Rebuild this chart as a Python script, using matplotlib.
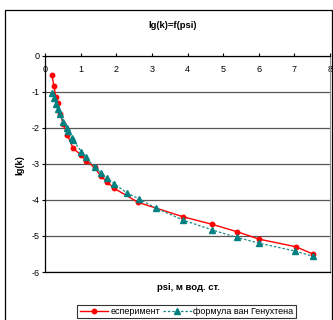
import matplotlib
matplotlib.use("Agg")
import matplotlib.pyplot as plt
from matplotlib.patches import Rectangle

plt.rcParams['font.family'] = ['Liberation Sans', 'DejaVu Sans']

exp_x = [0.19, 0.25, 0.30, 0.36, 0.43, 0.51, 0.63, 0.79, 1.02, 1.15, 1.39, 1.56, 1.73, 1.94, 2.62, 3.88, 4.70, 5.38, 6.02, 7.04, 7.52]
exp_y = [-0.53, -0.83, -1.14, -1.32, -1.62, -1.89, -2.20, -2.57, -2.76, -2.91, -3.10, -3.33, -3.49, -3.68, -4.07, -4.47, -4.68, -4.88, -5.09, -5.30, -5.50]

vg_x = [0.21, 0.26, 0.31, 0.36, 0.42, 0.51, 0.61, 0.65, 0.75, 0.79, 1.02, 1.15, 1.39, 1.56, 1.73, 1.95, 2.29, 2.65, 3.12, 3.88, 4.68, 5.38, 6.01, 7.02, 7.51]
vg_y = [-1.04, -1.18, -1.34, -1.48, -1.62, -1.83, -2.01, -2.10, -2.29, -2.34, -2.66, -2.82, -3.08, -3.24, -3.38, -3.56, -3.80, -3.98, -4.23, -4.56, -4.83, -5.04, -5.20, -5.42, -5.56]

x_ticks = [0, 1, 2, 3, 4, 5, 6, 7, 8]
y_ticks = [0, -1, -2, -3, -4, -5, -6]

title = "lg(k)=f(psi)"
xlabel = "psi, м вод. ст."
ylabel = "lg(k)"
label_exp = "есперимент"
label_vg = "формула ван Генухтена"

W, H = 333, 320
fig = plt.figure(figsize=(W / 100, H / 100), dpi=100)
fig.patch.set_facecolor('white')

# outer chart border
fig.patches.append(Rectangle((5 / W, -10 / H), 327 / W, H / H,
                             transform=fig.transFigure, fill=False,
                             edgecolor='black', linewidth=0.9))

ax = fig.add_axes([45 / W, 1 - 272 / H, (330 - 45) / W, (272 - 55.7) / H])
ax.set_xlim(0, 8)
ax.set_ylim(-6, 0)

ax.plot(exp_x, exp_y, color='#ff0000', marker='o', markersize=3.2, linewidth=1.0,
        label=label_exp, zorder=3)
ax.plot(vg_x, vg_y, color='#1a8c8c', linestyle=(0, (2, 1.5)), linewidth=0.9,
        marker='^', markersize=4, markerfacecolor='#008080', markeredgecolor='#008080',
        label=label_vg, zorder=4)

ax.set_xticks(x_ticks)
ax.set_yticks(y_ticks)
ax.set_xticklabels([str(t) for t in x_ticks])
ax.set_yticklabels([str(t) for t in y_ticks])
ax.tick_params(axis='x', bottom=False, labelbottom=False, top=True, labeltop=True,
               direction='out', length=2, width=0.8, pad=-15, labelsize=6.5, colors='black')
ax.tick_params(axis='y', direction='out', length=2, width=0.8, pad=2, labelsize=6.5)

ax.yaxis.grid(True, color='#555555', linewidth=0.9)
ax.set_axisbelow(True)

for s in ['left', 'top', 'bottom']:
    ax.spines[s].set_color('black')
    ax.spines[s].set_linewidth(0.9)
ax.spines['right'].set_color('#999999')
ax.spines['right'].set_linewidth(0.8)

fig.text(173 / W, 1 - 25 / H, title, ha='center', va='center', fontsize=6.8, fontweight='bold')
fig.text(188 / W, 1 - 287 / H, xlabel, ha='center', va='center', fontsize=6.8, fontweight='bold')
fig.text(20 / W, 1 - 165 / H, ylabel, ha='center', va='center', fontsize=6.8,
         fontweight='bold', rotation=90)

leg = fig.legend(loc='center', bbox_to_anchor=(186.5 / W, 1 - 311.5 / H), ncol=2,
                 fontsize=6.5, frameon=True, fancybox=False, handlelength=3.2,
                 columnspacing=0.3, handletextpad=0.2, borderpad=0.25, borderaxespad=0)
leg.get_frame().set_edgecolor('black')
leg.get_frame().set_linewidth(0.8)

fig.savefig('out.png', dpi=100)
